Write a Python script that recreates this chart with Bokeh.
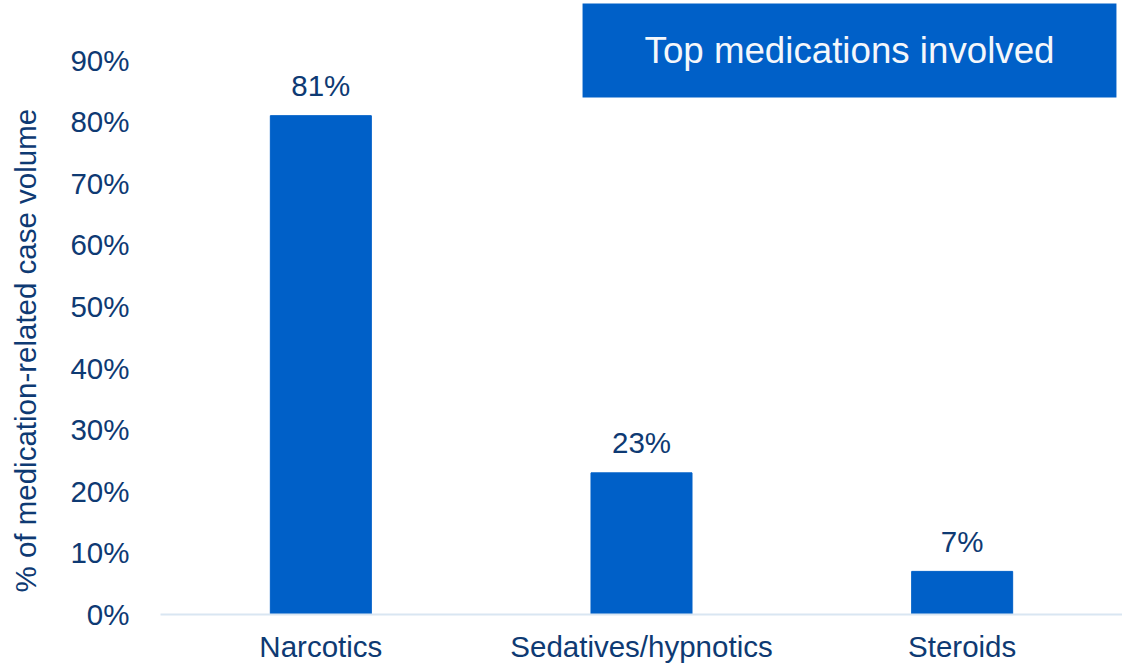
from bokeh.plotting import figure
from bokeh.models import FactorRange, Range1d, FixedTicker, PrintfTickFormatter, Label, Title
from bokeh.core.properties import value
from bokeh.embed import file_html
from bokeh.resources import INLINE

categories = ["Narcotics", "Sedatives/hypnotics", "Steroids"]
shares = [81, 23, 7]
share_labels = ["81%", "23%", "7%"]
y_ticks = [0, 10, 20, 30, 40, 50, 60, 70, 80, 90]
title_text = "Top medications involved"
y_title = "% of medication-related case volume"

NAVY = "#0E3A73"
BLUE = "#0060C8"
FONT = "Liberation Sans"
FS = "29.5px"

p = figure(x_range=FactorRange(factors=categories, range_padding=0),
           y_range=Range1d(0, 99.7),
           width=1122, height=665, output_backend="svg", toolbar_location=None,
           min_border_left=160, min_border_right=0, min_border_top=0, min_border_bottom=51)
p.outline_line_color = None
p.background_fill_color = "white"
p.border_fill_color = "white"
p.grid.grid_line_color = None

p.vbar(x=categories, top=shares, width=0.315, color=BLUE, line_color=BLUE)
p.text(x=categories, y=shares, text=share_labels, y_offset=-30,
       text_align="center", text_baseline="middle",
       text_font=value(FONT), text_font_size=FS, text_color=NAVY)

ya = p.yaxis[0]
ya.ticker = FixedTicker(ticks=y_ticks)
ya.formatter = PrintfTickFormatter(format="%d%%")
ya.axis_line_color = None
ya.major_tick_line_color = None
ya.minor_tick_line_color = None
ya.major_tick_out = 0
ya.major_label_standoff = 31
ya.major_label_text_font = FONT
ya.major_label_text_font_size = FS
ya.major_label_text_color = NAVY
ya.axis_label = "\u00a0"
ya.axis_label_text_font_size = "1px"
ya.axis_label_standoff = 17

xa = p.xaxis[0]
xa.axis_line_color = "#D9E6F2"
xa.axis_line_width = 2
xa.major_tick_line_color = None
xa.minor_tick_line_color = None
xa.major_tick_out = 0
xa.major_label_standoff = 15
xa.major_label_text_font = FONT
xa.major_label_text_font_size = FS
xa.major_label_text_color = NAVY

ylab = Title(text=y_title, align="left", offset=22, standoff=10,
             text_font=FONT, text_font_size=FS, text_font_style="normal",
             text_color=NAVY)
p.add_layout(ylab, "left")

title = Label(x=689, y=564, x_units="screen", y_units="screen", text=title_text,
              text_align="center", text_baseline="middle",
              text_font=FONT, text_font_size="36.7px", text_color="#F4F7FB",
              background_fill_color=BLUE, background_fill_alpha=1.0,
              padding=dict(left=62, right=62, top=26, bottom=27))
p.add_layout(title)

open("out.html", "w").write(file_html(p, INLINE))
